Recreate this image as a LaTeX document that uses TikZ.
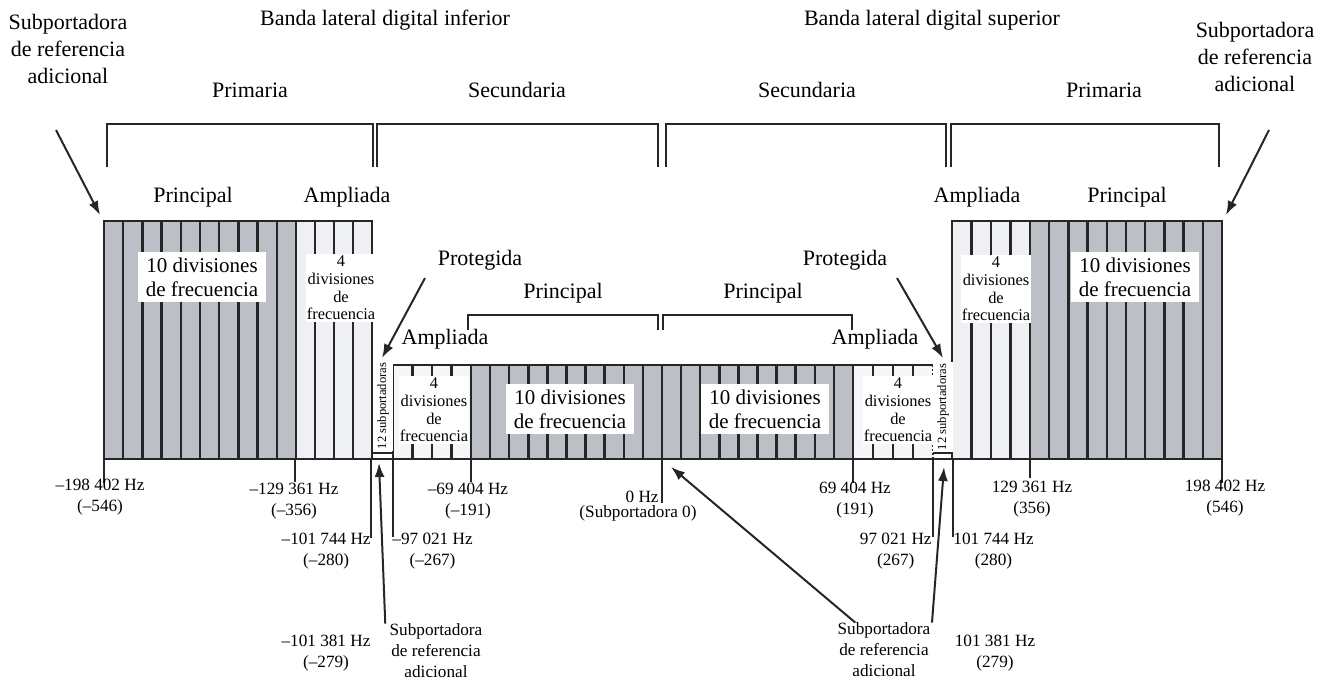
\documentclass[tikz,border=0pt]{standalone}
\usepackage{fontspec}
\setmainfont{Liberation Serif}
\usepackage{tikz}
\usetikzlibrary{arrows.meta}
\definecolor{ink}{HTML}{262626}
\definecolor{bandgray}{HTML}{BDBFC6}
\definecolor{bandlight}{HTML}{EFF0F4}
\definecolor{bandpale}{HTML}{F6F6F8}
\newcommand{\lblfont}{\fontsize{11}{13.5}\selectfont}
\newcommand{\divfont}{\fontsize{10.5}{12}\selectfont}
\newcommand{\smdivfont}{\fontsize{8.2}{8.8}\selectfont}
\newcommand{\freqfont}{\fontsize{8.6}{10.5}\selectfont}
\newcommand{\subfont}{\fontsize{6.3}{7}\selectfont}

\begin{document}
\begin{tikzpicture}[x=0.5pt,y=-0.5pt,
  lbl/.style={font=\lblfont,align=center,inner sep=1pt},
  fq/.style={font=\freqfont,align=center,inner sep=1pt},
  bigdiv/.style={fill=white,font=\divfont,align=center,inner xsep=4pt,inner ysep=3pt},
  smdiv/.style={fill=white,font=\smdivfont,align=center,inner xsep=0.5pt,inner ysep=1pt},
  subs/.style={fill=white,font=\subfont,rotate=90,inner xsep=1pt,inner ysep=2pt},
  outline/.style={draw=ink,line width=1.4pt},
  divline/.style={draw=ink,line width=1.25pt},
  brk/.style={draw=ink,line width=1.2pt},
  hzline/.style={draw=ink,line width=1.3pt},
  arr/.style={draw=ink,line width=1pt,-{Latex[length=7pt,width=5pt]}}]
  \useasboundingbox (0,0) rectangle (1333,680);

  % Level: band fills
  \fill[bandgray] (104,221) rectangle (296,459);
  \fill[bandlight] (296,221) rectangle (372,459);
  \fill[bandlight] (952,221) rectangle (1030,459);
  \fill[bandgray] (1030,221) rectangle (1222,459);
  \fill[bandpale] (393,365) rectangle (471,459);
  \fill[bandgray] (471,365) rectangle (853,459);
  \fill[bandpale] (853,365) rectangle (933,459);

  % frequency divisions
  \foreach \k in {1,...,9} {
    \draw[divline] ({104+19.2*\k},221) -- ({104+19.2*\k},459);
    \draw[divline] ({1030+19.2*\k},221) -- ({1030+19.2*\k},459);
    \draw[divline] ({471+19.1*\k},365) -- ({471+19.1*\k},459);
    \draw[divline] ({662+19.1*\k},365) -- ({662+19.1*\k},459);
  }
  \foreach \k in {1,2,3} {
    \draw[divline] ({296+19*\k},221) -- ({296+19*\k},459);
    \draw[divline] ({952+19.5*\k},221) -- ({952+19.5*\k},459);
    \draw[divline] ({393+19.5*\k},365) -- ({393+19.5*\k},459);
    \draw[divline] ({853+20*\k},365) -- ({853+20*\k},459);
  }
  \draw[divline] (662,365) -- (662,459);

  % outlines
  \draw[outline] (104,221) rectangle (372,459);
  \draw[outline] (296,221) -- (296,459);
  \draw[outline] (952,221) rectangle (1222,459);
  \draw[outline] (1030,221) -- (1030,459);
  \draw[outline] (372,365) -- (952,365);
  \draw[outline] (393,365) -- (393,459);
  \draw[outline] (471,365) -- (471,459);
  \draw[outline] (853,365) -- (853,459);
  \draw[draw=ink,line width=0.8pt,dash pattern=on 1pt off 1pt] (933,365) -- (933,459);
  \draw[divline] (372,453) -- (393,453);
  \draw[divline] (933,453) -- (952,453);
  \draw[outline] (104,459) -- (1222,459);

  % division boxes
  \node[bigdiv] (dPL) at (202,277) {10 divisiones\\de frecuencia};
  \node[smdiv] (dAL) at (341,288) {4\\divisiones\\de\\frecuencia};
  \node[subs] (pL) at (383,406) {12 subportadoras};
  \node[smdiv] (dAl) at (434,410) {4\\divisiones\\de\\frecuencia};
  \node[bigdiv] (dPl) at (570,409) {10 divisiones\\de frecuencia};
  \node[bigdiv] (dPr) at (765,409) {10 divisiones\\de frecuencia};
  \node[smdiv] (dAr) at (898,410) {4\\divisiones\\de\\frecuencia};
  \node[subs] (pR) at (943,407) {12 subportadoras};
  \node[smdiv] (dAR) at (996,289) {4\\divisiones\\de\\frecuencia};
  \node[bigdiv] (dPR) at (1135,277) {10 divisiones\\de frecuencia};

  % brackets
  \draw[brk] (107,167) -- (107,124) -- (373,124) -- (373,167);
  \draw[brk] (377,167) -- (377,124) -- (658,124) -- (658,167);
  \draw[brk] (666,167) -- (666,124) -- (946,124) -- (946,167);
  \draw[brk] (951,167) -- (951,124) -- (1219,124) -- (1219,167);
  \draw[brk] (468,330) -- (468,315) -- (658,315) -- (658,330);
  \draw[brk] (663,330) -- (663,315) -- (852,315) -- (852,330);

  % labels
  \node[lbl] (refTL) at (68,49) {Subportadora\\de referencia\\adicional};
  \node[lbl] (refTR) at (1255,57) {Subportadora\\de referencia\\adicional};
  \node[lbl] (bandL) at (385,20) {Banda lateral digital inferior};
  \node[lbl] (bandU) at (932,20) {Banda lateral digital superior};
  \node[lbl] (priL) at (250,90) {Primaria};
  \node[lbl] (secL) at (517,90) {Secundaria};
  \node[lbl] (secR) at (807,90) {Secundaria};
  \node[lbl] (priR) at (1104,90) {Primaria};
  \node[lbl] (mainL) at (193,197) {Principal};
  \node[lbl] (extL) at (347,197) {Ampliada};
  \node[lbl] (extR) at (977,197) {Ampliada};
  \node[lbl] (mainR) at (1127,197) {Principal};
  \node[lbl] (protL) at (480,260) {Protegida};
  \node[lbl] (protR) at (845,260) {Protegida};
  \node[lbl] (mainl) at (563,293) {Principal};
  \node[lbl] (mainr) at (763,293) {Principal};
  \node[lbl] (extl) at (445,339) {Ampliada};
  \node[lbl] (extr) at (875,339) {Ampliada};

  % frequency marks
  \foreach \x/\y in {104/483,295/482,371/538,393/537,471/482,662/503,
                     853/483,933/537,953/537,1030/478,1222/483}
    \draw[hzline] (\x,459) -- (\x,\y);
  \node[fq] (f1) at (100,497) {--198 402 Hz\\(--546)};
  \node[fq] (f2) at (294,501) {--129 361 Hz\\(--356)};
  \node[fq,anchor=east] (f3) at (373,551) {--101 744 Hz\\(--280)};
  \node[fq,anchor=west] (f4) at (390,551) {--97 021 Hz\\(--267)};
  \node[fq] (f5) at (468,501) {--69 404 Hz\\(--191)};
  \node[fq,anchor=east] (f0) at (661,497) {0 Hz};
  \node[fq] (f0b) at (638,513) {(Subportadora 0)};
  \node[fq] (g5) at (855,500) {69 404 Hz\\(191)};
  \node[fq,anchor=east] (g4) at (934,551) {97 021 Hz\\(267)};
  \node[fq,anchor=west] (g3) at (951,551) {101 744 Hz\\(280)};
  \node[fq] (g2) at (1032,499) {129 361 Hz\\(356)};
  \node[fq] (g1) at (1225,498) {198 402 Hz\\(546)};
  \node[fq] (f6) at (326,653) {--101 381 Hz\\(--279)};
  \node[fq] (g6) at (995,653) {101 381 Hz\\(279)};
  \node[fq] (refBL) at (436,651) {Subportadora\\de referencia\\adicional};
  \node[fq] (refBR) at (884,650) {Subportadora\\de referencia\\adicional};

  % arrows
  \coordinate (tailTL) at (56,130);
  \coordinate (tipTL) at (100,215);
  \coordinate (tailTR) at (1269,130);
  \coordinate (tipTR) at (1226,215);
  \coordinate (tailPL) at (425,278);
  \coordinate (tipPL) at (382,358);
  \coordinate (tailPR) at (897,278);
  \coordinate (tipPR) at (943,358);
  \coordinate (tipBL) at (379,463);
  \coordinate (tipBR) at (944,467);
  \coordinate (tipC) at (671,467);
  \draw[arr] (tailTL) -- (tipTL);
  \draw[arr] (tailTR) -- (tipTR);
  \draw[arr] (tailPL) -- (tipPL);
  \draw[arr] (tailPR) -- (tipPR);
  \draw[arr] ([xshift=-1pt,yshift=-1pt]refBL.north west) -- (tipBL);
  \draw[arr] ([xshift=24pt,yshift=-1pt]refBR.north) -- (tipBR);
  \draw[arr] ([xshift=10pt,yshift=-1pt]refBR.north west) -- (tipC);
\end{tikzpicture}
\end{document}
